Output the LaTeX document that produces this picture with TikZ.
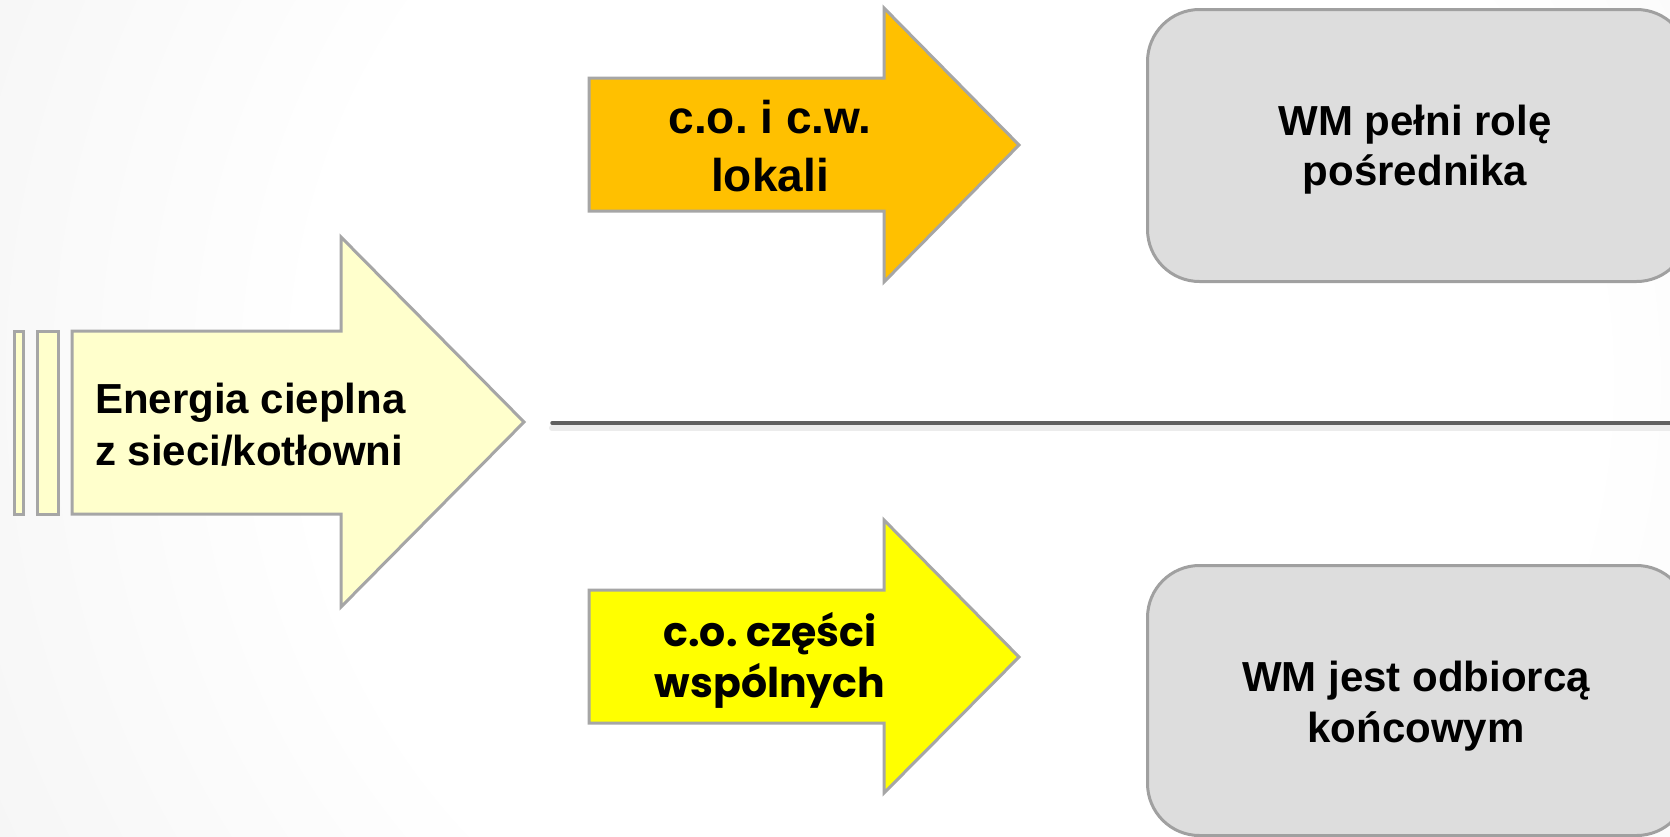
\documentclass[tikz,border=0pt]{standalone}
\usepackage{fontspec}
\setmainfont{Liberation Sans}
\newfontfamily\gothicfont{Poppins}
\frenchspacing
\definecolor{bggray}{RGB}{226,226,226}
\definecolor{lightyel}{RGB}{255,255,204}
\definecolor{orangeyel}{RGB}{255,192,0}
\definecolor{pureyel}{RGB}{255,255,0}
\definecolor{bordergray}{RGB}{166,166,166}
\definecolor{boxfill}{RGB}{221,221,221}
\definecolor{boxborder}{RGB}{160,160,160}
\definecolor{linegray}{RGB}{96,96,96}
\pgfdeclareradialshading{bgshade}{\pgfpoint{0bp}{0bp}}{color(0bp)=(white); color(16bp)=(white); color(50bp)=(bggray)}
\tikzset{
  arrowshape/.style={draw=bordergray, line width=3pt, line join=miter},
  box/.style={draw=boxborder, fill=boxfill, line width=3pt, rounded corners=52pt, anchor=north west, inner sep=0pt},
  arialtext/.style={font=\bfseries\fontsize{42}{50}\selectfont, inner sep=0pt, align=center, anchor=north},
}
\begin{document}
\begin{tikzpicture}[x=1pt,y=-1pt]
\useasboundingbox (0,0) rectangle (1670,836);
\clip (0,0) rectangle (1670,836);
\shade[shading=bgshade] (-50,-620) rectangle (1950,1380);
% main arrow with stripes
\draw[arrowshape, fill=lightyel] (14,331) rectangle (23.5,514);
\draw[arrowshape, fill=lightyel] (37,331) rectangle (58,514);
\draw[arrowshape, fill=lightyel] (72,331) -- (341,331) -- (341,237) -- (524,422) -- (341,607) -- (341,514) -- (72,514) -- cycle;
% top arrow
\draw[arrowshape, fill=orangeyel] (589,78) -- (884,78) -- (884,8) -- (1019,145) -- (884,282) -- (884,211) -- (589,211) -- cycle;
% bottom arrow
\draw[arrowshape, fill=pureyel] (589,590) -- (884,590) -- (884,520) -- (1019,657) -- (884,793) -- (884,723) -- (589,723) -- cycle;
% separator line with shadow
\coordinate (ls) at (552,423);
\coordinate (le) at (1680,423);
\draw[line width=6pt, gray!15, line cap=round] ([yshift=-5pt]ls) -- ([yshift=-5pt]le);
\draw[line width=3.5pt, linegray, line cap=round] (ls) -- (le);
% boxes
\node[box, minimum width=541pt, minimum height=272pt] (boxtop) at (1146,8) {};
\node[box, minimum width=541pt, minimum height=270pt] (boxbot) at (1146,564) {};
% texts
\node[font=\bfseries\fontsize{42}{52}\selectfont, inner sep=0pt, align=left, anchor=north west] (energia) at (95,377) {\strut Energia cieplna\\\strut z sieci/kotłowni};
\node[font=\bfseries\fontsize{46}{58}\selectfont, inner sep=0pt, align=center, anchor=north] (lokali) at (770,93) {\strut c.o. i c.w.\\\strut lokali};
\node[font=\gothicfont\bfseries\fontsize{41}{51}\selectfont, inner sep=0pt, align=center, anchor=north] (wspolne) at (770,611) {\strut c.o. części\\\strut wspólnych};
\node[arialtext] (posrednik) at (1415,100) {\strut WM pełni rolę\\\strut pośrednika};
\node[arialtext, font=\bfseries\fontsize{42}{51}\selectfont] (odbiorca) at (1416,656) {\strut WM jest odbiorcą\\\strut końcowym};
\end{tikzpicture}
\end{document}
